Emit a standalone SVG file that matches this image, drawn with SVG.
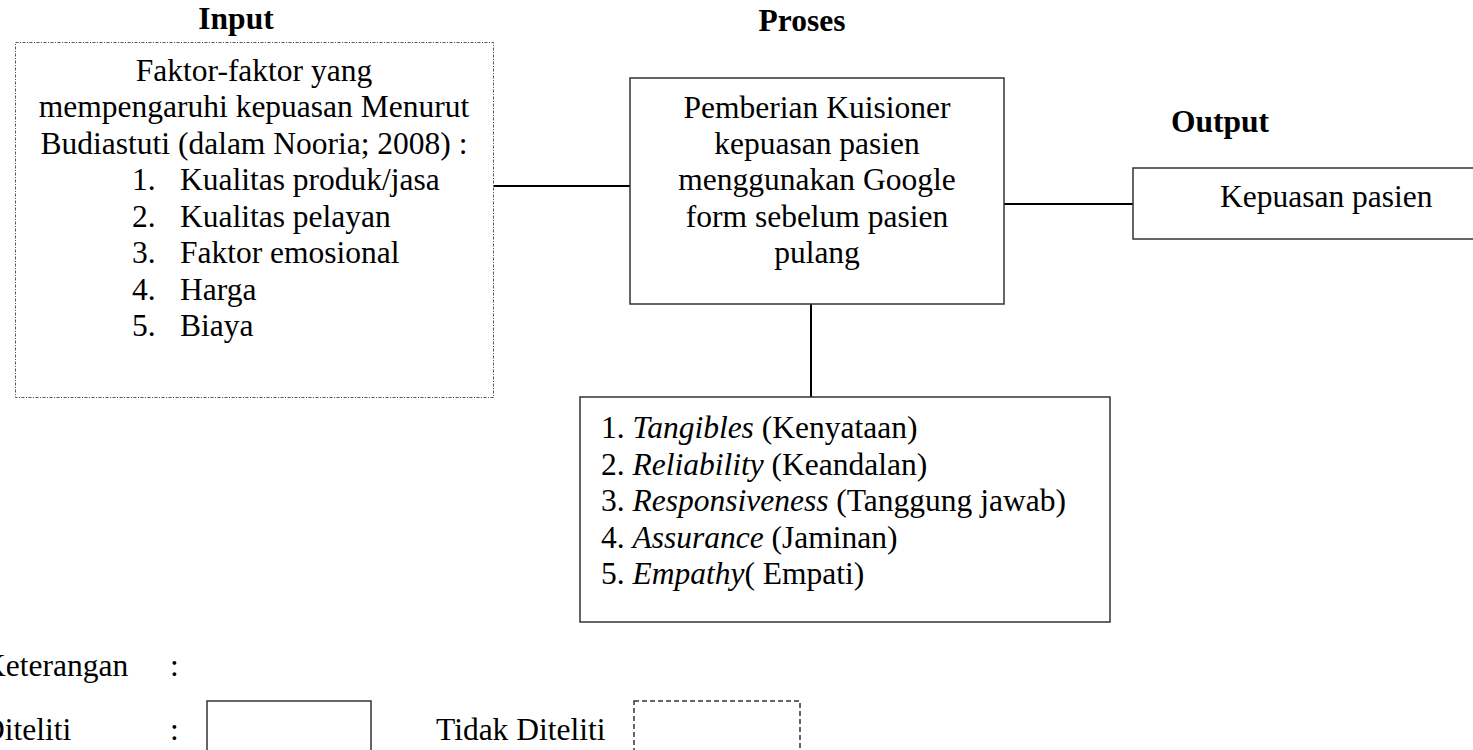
<svg xmlns="http://www.w3.org/2000/svg" width="1473" height="750" viewBox="0 0 1473 750">
<style>
text{font-family:"Liberation Serif","Times New Roman",serif;font-size:31.5px;fill:#000}
.h{font-weight:bold}
.c{text-anchor:middle}
.box{fill:#fff;stroke:#333;stroke-width:1.5}
.dot{fill:#fff;stroke:#555;stroke-width:1;stroke-dasharray:3 1.5 1 1.5}
.dash{fill:none;stroke:#333;stroke-width:1.5;stroke-dasharray:5 3}
.con line{stroke:#000;stroke-width:2}
</style>
<g id="headings">
<text class="h c" x="236" y="29">Input</text>
<text class="h c" x="802" y="31">Proses</text>
<text class="h c" x="1220" y="132">Output</text>
</g>
<g id="connectors" class="con">
<line x1="493" y1="186" x2="630" y2="186"/>
<line x1="1004" y1="204" x2="1133" y2="204"/>
<line x1="811" y1="304" x2="811" y2="397"/>
</g>
<g id="input">
<rect class="dot" x="15.5" y="42.5" width="478" height="355"/>
<text class="c" x="254" y="81">Faktor-faktor yang</text>
<text class="c" x="254" y="117">mempengaruhi kepuasan Menurut</text>
<text class="c" x="254" y="154">Budiastuti (dalam Nooria; 2008) :</text>
<text x="132" y="190">1.</text><text x="180" y="190">Kualitas produk/jasa</text>
<text x="132" y="227">2.</text><text x="180" y="227">Kualitas pelayan</text>
<text x="132" y="263">3.</text><text x="180" y="263">Faktor emosional</text>
<text x="132" y="300">4.</text><text x="180" y="300">Harga</text>
<text x="132" y="336">5.</text><text x="180" y="336">Biaya</text>
</g>
<g id="proses">
<rect class="box" x="630" y="78" width="374" height="226"/>
<text class="c" x="817" y="118">Pemberian Kuisioner</text>
<text class="c" x="817" y="154">kepuasan pasien</text>
<text class="c" x="817" y="190">menggunakan Google</text>
<text class="c" x="817" y="227">form sebelum pasien</text>
<text class="c" x="817" y="263">pulang</text>
</g>
<g id="output">
<rect class="box" x="1133" y="168" width="345" height="71"/>
<text x="1220" y="207">Kepuasan pasien</text>
</g>
<g id="dimensi">
<rect class="box" x="580" y="397" width="530" height="225"/>
<text x="601" y="438">1. <tspan font-style="italic">Tangibles</tspan> (Kenyataan)</text>
<text x="601" y="475">2. <tspan font-style="italic">Reliability</tspan> (Keandalan)</text>
<text x="601" y="511">3. <tspan font-style="italic">Responsiveness</tspan> (Tanggung jawab)</text>
<text x="601" y="548">4. <tspan font-style="italic">Assurance</tspan> (Jaminan)</text>
<text x="601" y="584">5. <tspan font-style="italic">Empathy</tspan>( Empati)</text>
</g>
<g id="legend">
<text x="-17" y="676">Keterangan</text>
<text x="170" y="676">:</text>
<text x="-18" y="740">Diteliti</text>
<text x="170" y="740">:</text>
<rect class="box" x="207" y="701" width="164" height="60"/>
<text x="436" y="740">Tidak Diteliti</text>
<rect class="dash" x="634" y="701" width="166" height="60"/>
</g>
</svg>
